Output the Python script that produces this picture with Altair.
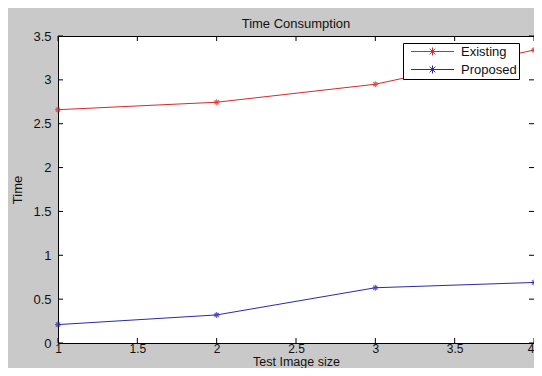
import altair as alt
import pandas as pd

sizes = [1, 2, 3, 4]
existing = [2.66, 2.745, 2.95, 3.34]
proposed = [0.21, 0.32, 0.63, 0.69]
series_names = ["Existing", "Proposed"]
series_colors = ["#d42a2a", "#2a2aa8"]
x_ticks = [1, 1.5, 2, 2.5, 3, 3.5, 4]
y_ticks = [0, 0.5, 1, 1.5, 2, 2.5, 3, 3.5]

W, H = 476, 307
FONT = "Liberation Sans"

rows = []
for s, e, p in zip(sizes, existing, proposed):
    rows.append({"size": s, "time": e, "series": "Existing"})
    rows.append({"size": s, "time": p, "series": "Proposed"})
df = pd.DataFrame(rows)

xscale = alt.Scale(domain=[1, 4], nice=False, zero=False)
yscale = alt.Scale(domain=[0, 3.5], nice=False)

star = "M0,-1V1M-1,0H1M-0.7,-0.7L0.7,0.7M-0.7,0.7L0.7,-0.7"
legend_sym = ("M-4.3,0H4.3M0,-0.8V0.8M-0.8,0H0.8"
              "M-0.57,-0.57L0.57,0.57M-0.57,0.57L0.57,-0.57")

color = alt.Color(
    "series:N",
    scale=alt.Scale(domain=series_names, range=series_colors),
    legend=alt.Legend(
        title=None, orient="none", legendX=345, legendY=7,
        symbolType=legend_sym, symbolSize=100, symbolStrokeWidth=1,
        symbolOffset=21,
        labelFont=FONT, labelFontSize=13, labelColor="#111",
        labelOffset=22, padding=2, rowPadding=4,
        labelExpr="datum.label + '\u00a0\u00a0\u00a0\u00a0'",
        strokeColor="#000", fillColor="#fff",
        offset=0,
    ),
)

x_enc = alt.X("size:Q", scale=xscale,
              axis=alt.Axis(values=x_ticks, format="~g", title="Test Image size",
                            domain=False, ticks=False, grid=False,
                            labelFont=FONT, labelFontSize=12, labelColor="#111",
                            labelPadding=0, titleFont=FONT, titleFontSize=12.5,
                            titleFontWeight="normal", titleColor="#111",
                            titleBaseline="alphabetic", titleY=22, labelFlush=False,
                            labelAlign=alt.condition("datum.value == 4",
                                                     alt.value("right"),
                                                     alt.value("center"))))
y_enc = alt.Y("time:Q", scale=yscale,
              axis=alt.Axis(values=y_ticks, format="~g", title="Time",
                            domain=False, ticks=False, grid=False,
                            labelFont=FONT, labelFontSize=13, labelColor="#111",
                            labelPadding=7, titleFont=FONT, titleFontSize=13,
                            titleFontWeight="normal", titleColor="#111",
                            titlePadding=8, labelFlush=False))

lines = alt.Chart(df).mark_line(strokeWidth=1).encode(
    x=x_enc, y=y_enc, color=color, detail="series:N")

points = alt.Chart(df).mark_point(shape=star, size=36, filled=False, strokeWidth=1.2).encode(
    x=alt.X("size:Q", scale=xscale),
    y=alt.Y("time:Q", scale=yscale),
    color=alt.Color("series:N", scale=alt.Scale(domain=series_names, range=series_colors), legend=None),
)

xt = pd.DataFrame({"v": x_ticks})
yt = pd.DataFrame({"v": y_ticks})
tick_style = dict(color="#000", strokeWidth=1)
xb = alt.Chart(xt).mark_rule(**tick_style).encode(
    x=alt.X("v:Q", scale=xscale), y=alt.value(H), y2=alt.value(H - 5))
xtp = alt.Chart(xt).mark_rule(**tick_style).encode(
    x=alt.X("v:Q", scale=xscale), y=alt.value(0), y2=alt.value(5))
yl = alt.Chart(yt).mark_rule(**tick_style).encode(
    y=alt.Y("v:Q", scale=yscale), x=alt.value(0), x2=alt.value(5))
yr = alt.Chart(yt).mark_rule(**tick_style).encode(
    y=alt.Y("v:Q", scale=yscale), x=alt.value(W - 5), x2=alt.value(W))

chart = alt.layer(xb, xtp, yl, yr, lines, points).properties(
    width=W, height=H,
    title=alt.Title("Time Consumption", font=FONT, fontSize=13, fontWeight="normal",
                    color="#111", anchor="middle", offset=-1, frame="group"),
    autosize=alt.AutoSizeParams(type="none"),
    padding={"left": 50, "top": 28, "right": 0, "bottom": 25},
    background="#c9c9c9",
).configure_view(
    stroke="#000", strokeWidth=1, fill="#ffffff"
)

chart.save("out.html", embed_options={"renderer": "svg", "actions": False})
